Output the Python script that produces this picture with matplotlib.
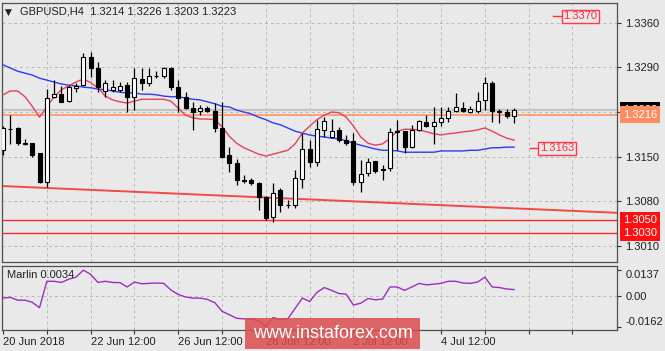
import matplotlib
matplotlib.use("Agg")
import matplotlib.pyplot as plt
from matplotlib.patches import Rectangle
import numpy as np

plt.rcParams['font.family'] = ['Liberation Sans', 'DejaVu Sans']

# ---------------- data ----------------
title_text = "GBPUSD,H4  1.3214 1.3226 1.3203 1.3223"

opens = [1.3160, 1.3193, 1.3195, 1.3171, 1.3171, 1.3155, 1.3110, 1.3244, 1.3248, 1.3237,
         1.3258, 1.3262, 1.3306, 1.3289, 1.3253, 1.3255, 1.3255, 1.3262, 1.3244, 1.3272,
         1.3266, 1.3277, 1.3276, 1.3289, 1.3260, 1.3243, 1.3226, 1.3222, 1.3226, 1.3222,
         1.3195, 1.3153, 1.3140, 1.3114, 1.3113, 1.3109, 1.3087, 1.3055, 1.3098, 1.3075,
         1.3075, 1.3115, 1.3162, 1.3142, 1.3192, 1.3181, 1.3192, 1.3176, 1.3175, 1.3110,
         1.3124, 1.3143, 1.3129, 1.3132, 1.3189, 1.3190, 1.3165, 1.3192, 1.3204, 1.3198,
         1.3205, 1.3211, 1.3222, 1.3226, 1.3220, 1.3222, 1.3239, 1.3266, 1.3222, 1.3220, 1.3214]
highs = [1.3198, 1.3215, 1.3196, 1.3178, 1.3172, 1.3156, 1.3256, 1.3270, 1.3261, 1.3262,
         1.3266, 1.3313, 1.3314, 1.3298, 1.3270, 1.3270, 1.3267, 1.3267, 1.3289, 1.3289,
         1.3289, 1.3284, 1.3291, 1.3290, 1.3270, 1.3251, 1.3236, 1.3231, 1.3230, 1.3234,
         1.3236, 1.3165, 1.3146, 1.3121, 1.3117, 1.3110, 1.3088, 1.3109, 1.3101, 1.3082,
         1.3129, 1.3187, 1.3176, 1.3208, 1.3212, 1.3209, 1.3197, 1.3184, 1.3187, 1.3145,
         1.3148, 1.3144, 1.3137, 1.3195, 1.3208, 1.3191, 1.3200, 1.3207, 1.3215, 1.3228,
         1.3228, 1.3228, 1.3250, 1.3236, 1.3229, 1.3251, 1.3275, 1.3269, 1.3225, 1.3225, 1.3226]
lows = [1.3153, 1.3170, 1.3169, 1.3168, 1.3150, 1.3109, 1.3103, 1.3242, 1.3235, 1.3235,
        1.3251, 1.3261, 1.3275, 1.3251, 1.3244, 1.3251, 1.3251, 1.3220, 1.3223, 1.3255,
        1.3261, 1.3273, 1.3273, 1.3255, 1.3220, 1.3225, 1.3192, 1.3215, 1.3220, 1.3189,
        1.3148, 1.3126, 1.3106, 1.3109, 1.3106, 1.3067, 1.3051, 1.3048, 1.3063, 1.3070,
        1.3070, 1.3101, 1.3134, 1.3135, 1.3181, 1.3179, 1.3173, 1.3168, 1.3106, 1.3095,
        1.3120, 1.3125, 1.3114, 1.3128, 1.3160, 1.3156, 1.3164, 1.3190, 1.3197, 1.3170,
        1.3198, 1.3204, 1.3220, 1.3220, 1.3218, 1.3218, 1.3223, 1.3204, 1.3203, 1.3211, 1.3203]
closes = [1.3195, 1.3194, 1.3171, 1.3170, 1.3153, 1.3110, 1.3242, 1.3248, 1.3236, 1.3259,
          1.3261, 1.3306, 1.3289, 1.3259, 1.3266, 1.3259, 1.3261, 1.3244, 1.3273, 1.3266,
          1.3277, 1.3276, 1.3289, 1.3259, 1.3242, 1.3226, 1.3220, 1.3226, 1.3222, 1.3195,
          1.3150, 1.3140, 1.3114, 1.3112, 1.3109, 1.3087, 1.3054, 1.3093, 1.3074, 1.3074,
          1.3117, 1.3162, 1.3142, 1.3193, 1.3206, 1.3190, 1.3176, 1.3172, 1.3110, 1.3123,
          1.3142, 1.3128, 1.3131, 1.3189, 1.3190, 1.3165, 1.3192, 1.3206, 1.3198, 1.3204,
          1.3211, 1.3222, 1.3228, 1.3222, 1.3224, 1.3237, 1.3266, 1.3222, 1.3220, 1.3214, 1.3223]

ma_fast = [1.3247, 1.3253, 1.3253, 1.3244, 1.3229, 1.3212, 1.3228, 1.3244, 1.3255, 1.3261,
           1.3267, 1.3272, 1.3266, 1.3258, 1.3245, 1.3239, 1.3236, 1.3234, 1.3237, 1.3240,
           1.3240, 1.3240, 1.3240, 1.3237, 1.3226, 1.3215, 1.3211, 1.3209, 1.3209, 1.3208,
           1.3197, 1.3182, 1.3171, 1.3164, 1.3159, 1.3154, 1.3151, 1.3154, 1.3157, 1.3160,
           1.3170, 1.3187, 1.3198, 1.3208, 1.3215, 1.3220, 1.3219, 1.3212, 1.3198, 1.3181,
           1.3171, 1.3168, 1.3170, 1.3179, 1.3190, 1.3193, 1.3193, 1.3192, 1.3189, 1.3186,
           1.3184, 1.3186, 1.3187, 1.3189, 1.3190, 1.3192, 1.3195, 1.3190, 1.3184, 1.3179, 1.3176]
ma_slow = [1.3294, 1.3289, 1.3284, 1.3281, 1.3278, 1.3273, 1.3270, 1.3267, 1.3264, 1.3262,
           1.3261, 1.3259, 1.3258, 1.3256, 1.3255, 1.3253, 1.3251, 1.3250, 1.3250, 1.3248,
           1.3248, 1.3247, 1.3245, 1.3244, 1.3244, 1.3242, 1.3240, 1.3239, 1.3236, 1.3233,
           1.3229, 1.3228, 1.3223, 1.3220, 1.3217, 1.3212, 1.3208, 1.3203, 1.3200, 1.3195,
           1.3190, 1.3187, 1.3184, 1.3182, 1.3181, 1.3179, 1.3178, 1.3175, 1.3171, 1.3168,
           1.3165, 1.3162, 1.3160, 1.3160, 1.3159, 1.3157, 1.3157, 1.3157, 1.3157, 1.3157,
           1.3159, 1.3159, 1.3159, 1.3159, 1.3160, 1.3160, 1.3162, 1.3164, 1.3164, 1.3165, 1.3165]

marlin = [-0.0011, -0.0007, -0.0022, -0.0022, -0.0033, -0.0062, 0.0078, 0.0078, 0.0072, 0.0089,
          0.0100, 0.0137, 0.0115, 0.0072, 0.0078, 0.0072, 0.0071, 0.0048, 0.0074, 0.0065,
          0.0067, 0.0069, 0.0067, 0.0032, 0.0008, -0.0005, -0.0011, -0.0011, -0.0018, -0.0035,
          -0.0081, -0.0099, -0.0118, -0.0121, -0.0121, -0.0131, -0.0162, -0.0114, -0.0125, -0.0121,
          -0.0066, -0.0011, -0.0029, 0.0019, 0.0045, 0.0030, 0.0013, 0.0010, -0.0048, -0.0038,
          -0.0013, -0.0020, -0.0016, 0.0048, 0.0048, 0.0030, 0.0048, 0.0067, 0.0059, 0.0063,
          0.0067, 0.0078, 0.0078, 0.0069, 0.0067, 0.0074, 0.0100, 0.0048, 0.0045, 0.0037, 0.0034]
marlin_name = "Marlin"

x_tick_bars = [6, 12, 18, 24, 30, 36, 42, 48, 54, 60, 66, 72, 78]
x_label_bars = [0, 12, 24, 36, 48, 60]
x_labels = ["20 Jun 2018", "22 Jun 12:00", "26 Jun 12:00", "28 Jun 12:00", "2 Jul 12:00", "4 Jul 12:00"]

price_ticks = [1.3360, 1.3290, 1.3220, 1.3150, 1.3080, 1.3010]
hidden_price_ticks = [1.3220]   # label covered by the price boxes in the original
marlin_ticks = [0.0137, 0.0, -0.0162]
marlin_tick_labels = ["0.0137", "0.00", "-0.0162"]

support_levels = [1.3050, 1.3030]
pivot_level = 1.3216
bid_price = 1.3223
target_up = 1.3370
target_down = 1.3163
trend_bars = [-0.14, 84.1]
trend_prices = [1.3104, 1.3062]

watermark = "www.instaforex.com"

# ---------------- drawing ----------------
W, H = 665, 351
BG = '#e9e9e9'
fig = plt.figure(figsize=(W / 100, H / 100), dpi=100, facecolor=BG)

def fx(px):
    return px / W

def fy(py):
    return 1 - py / H

ax = fig.add_axes([fx(2), fy(262), fx(617) - fx(2), fy(3) - fy(262)], facecolor=BG)
axm = fig.add_axes([fx(2), fy(330), fx(617) - fx(2), fy(266) - fy(330)], facecolor=BG)

n = len(opens)
bars = np.arange(n)
xlim = (-0.14, 84.1)
for a in (ax, axm):
    a.set_xlim(*xlim)
    for s in a.spines.values():
        s.set_color('#505050')
        s.set_linewidth(0.9)

ax.set_ylim(1.29849, 1.33909)

GRID = dict(color='#b8b8b8', lw=0.7, ls=(0, (3, 3)), zorder=0)
for b in x_tick_bars:
    ax.axvline(b, **GRID)
    axm.axvline(b, **GRID)
for p in price_ticks:
    ax.axhline(p, **GRID)
axm.axhline(0.0, **GRID)

# horizontal level lines
ax.axhline(bid_price, color='#c4c4c4', lw=1.6, zorder=1)
ax.axhline(pivot_level, color='#ff9466', lw=1.2, zorder=2)
for lv in support_levels:
    ax.axhline(lv, color='#ff2a2a', lw=1.0, zorder=2)
ax.plot(trend_bars, trend_prices, color='#f24848', lw=1.4, zorder=2, solid_capstyle='butt')

# moving averages
ax.plot(bars, ma_slow, color='#2d3cf5', lw=1.0, zorder=3)
ax.plot(bars, ma_fast, color='#e5415f', lw=1.0, zorder=3)

# candles
bw = 0.55
for i in range(n):
    o, h, l, c = opens[i], highs[i], lows[i], closes[i]
    ax.plot([i, i], [l, h], color='black', lw=0.9, zorder=4, solid_capstyle='butt')
    lo = min(o, c)
    ht = max(abs(c - o), 0.00002)
    fc = 'white' if c >= o else 'black'
    ax.add_patch(Rectangle((i - bw / 2, lo), bw, ht, facecolor=fc, edgecolor='black',
                           lw=0.8, zorder=5))

# right price axis
ax.yaxis.tick_right()
ax.set_yticks(price_ticks)
ax.set_yticklabels(['' if p in hidden_price_ticks else f"{p:.4f}" for p in price_ticks])
ax.tick_params(axis='y', which='both', length=3, width=0.8, color='#303030', pad=3,
               labelsize=8, labelcolor='#202020')
ax.set_xticks([])

# price boxes on the axis
def axis_box(price, txt, fc, tc, z):
    ax.annotate(txt, xy=(1.0, price), xycoords=('axes fraction', 'data'),
                xytext=(4.2, 0), textcoords='offset points', ha='left', va='center',
                fontsize=8, color=tc, zorder=z, annotation_clip=False,
                bbox=dict(boxstyle='square,pad=0.28', fc=fc, ec='none'))

axis_box(bid_price, f"{bid_price:.4f}", 'black', 'white', 10)
axis_box(pivot_level, f"{pivot_level:.4f}", '#ff8b5e', 'white', 11)
for lv in support_levels:
    axis_box(lv, f"{lv:.4f}", '#ff1010', 'white', 11)

# target labels
def target_label(bar_line0, bar_text, price):
    ax.plot([bar_line0, bar_text], [price, price], color='#ff3030', lw=1.0, zorder=6)
    ax.text(bar_text + 0.15, price, f"{price:.4f}", ha='left', va='center', fontsize=8,
            color='#ff2a3c', zorder=7,
            bbox=dict(boxstyle='square,pad=0.15', fc=BG, ec='#ff3b4a', lw=1.0))

target_label(75.3, 76.6, target_up)
target_label(72.2, 73.4, target_down)

# title
fig.text(fx(5), fy(12), "\u25bc", fontsize=6.5, ha='left', va='center', color='#202020',
         family=['DejaVu Sans'])
fig.text(fx(20), fy(12), title_text, fontsize=8, ha='left', va='center', color='#202020')

# marlin panel
axm.plot(bars, marlin, color='#9c2fc0', lw=1.0, zorder=3)
axm.set_ylim(-0.0180, 0.0159)
axm.yaxis.tick_right()
axm.set_yticks(marlin_ticks)
axm.set_yticklabels(marlin_tick_labels)
axm.tick_params(axis='y', length=3, width=0.8, color='#303030', pad=3, labelsize=8,
                labelcolor='#202020')
yl = axm.get_yticklabels()
yl[0].set_va('top')
yl[-1].set_va('bottom')
axm.text(0.008, 0.86, f"{marlin_name} {marlin[-1]:.4f}", transform=axm.transAxes,
         fontsize=8, ha='left', va='center', color='#202020')

axm.set_xticks(x_tick_bars + [0])
axm.set_xticklabels([x_labels[x_label_bars.index(b)] if b in x_label_bars else ''
                     for b in x_tick_bars + [0]])
for lab in axm.get_xticklabels():
    lab.set_ha('left')
axm.tick_params(axis='x', length=3, width=0.8, color='#303030', pad=2, labelsize=8,
                labelcolor='#202020')

# watermark
fig.patches.append(Rectangle((fx(245), fy(349)), fx(420) - fx(245), fy(318) - fy(349),
                             transform=fig.transFigure, facecolor=(0.86, 0.30, 0.30),
                             alpha=0.85, edgecolor='none', zorder=20))
fig.text((fx(245) + fx(420)) / 2, (fy(318) + fy(349)) / 2, watermark, color='white',
         fontsize=13, ha='center', va='center', zorder=21)

fig.savefig('out.png', dpi=100, facecolor=BG)
